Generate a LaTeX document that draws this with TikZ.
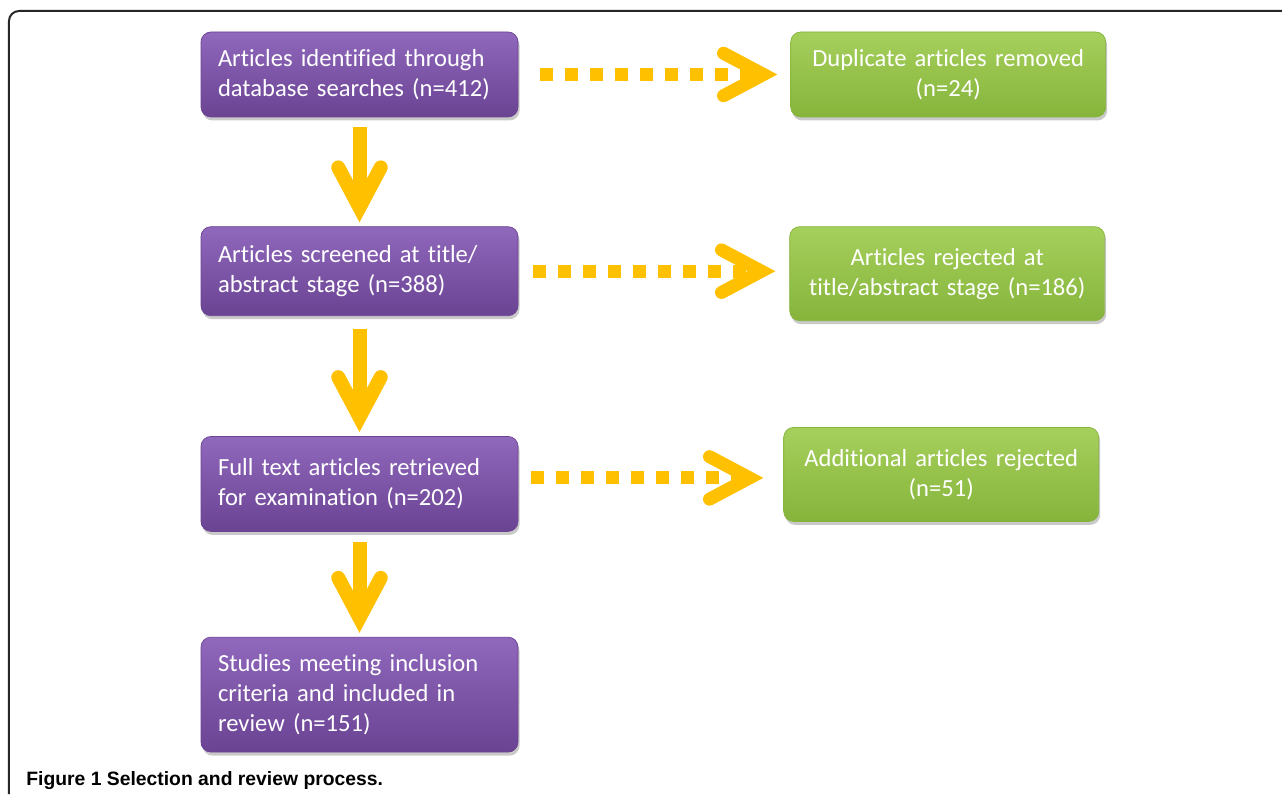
\documentclass[tikz,border=0pt]{standalone}
\usepackage{fontspec}
\setmainfont{Carlito}[Ligatures = NoCommon]
\newfontfamily\captionfont{Liberation Sans}
\usetikzlibrary{positioning, arrows.meta, shadows}

\definecolor{purpleTop}{HTML}{9068BC}
\definecolor{purpleBottom}{HTML}{6B4393}
\definecolor{greenTop}{HTML}{A5D05C}
\definecolor{greenBottom}{HTML}{86B43B}
\definecolor{arrowGold}{HTML}{FFC000}

\tikzset{
  stage/.style = {rectangle, rounded corners = 0.2cm, draw = purpleBottom,
    top color = purpleTop, bottom color = purpleBottom, text = white,
    minimum width = 6.34cm, text width = 5.66cm, inner xsep = 0.34cm,
    inner ysep = 0.1cm, align = left, font = \fontsize{14}{17}\selectfont,
    drop shadow = {shadow xshift = 0.03cm, shadow yshift = -0.07cm,
      opacity = 0.3, fill = black!70}},
  excluded/.style = {stage, draw = greenBottom, top color = greenTop,
    bottom color = greenBottom, minimum width = 6.3cm, text width = 5.62cm,
    align = center},
  flow/.style = {draw = arrowGold, line width = 0.28cm,
    -{Straight Barb[length = 0.8cm, width = 0.85cm, line cap = round,
      line join = miter]},
    shorten <= 0.2cm, shorten >= 0.08cm},
  drop/.style = {flow, dash pattern = on 0.25cm off 0.25cm,
    line width = 0.26cm}
}

\begin{document}
\begin{tikzpicture}
  \useasboundingbox (0,0) rectangle (25.64,-15.88);

  % frame and caption
  \draw[line width = 0.04cm, black!85, rounded corners = 0.2cm]
    (0.18,-15.88) |- (25.64,-0.22);
  \node[anchor = base west, inner sep = 0pt,
    font = \captionfont\bfseries\fontsize{11}{13}\selectfont]
    (caption) at (0.52,-15.7) {Figure 1 Selection and review process.};

  % main flow
  \node[stage, minimum height = 1.7cm] (identified) at (7.19,-1.49)
    {Articles identified through\\database searches (n=412)};
  \node[stage] (screened) [below = 2.18cm of identified,
    minimum height = 1.78cm]
    {Articles screened at title/\\abstract stage (n=388)};
  \node[stage] (retrieved) [below = 2.4cm of screened,
    minimum height = 1.9cm]
    {Full text articles retrieved\\for examination (n=202)};
  \node[stage] (included) [below = 2.1cm of retrieved,
    minimum height = 2.3cm]
    {Studies meeting inclusion\\criteria and included in\\review (n=151)};

  % exclusions
  \node[excluded] (duplicates) [right = 5.44cm of identified,
    minimum height = 1.7cm]
    {Duplicate articles removed\\(n=24)};
  \node[excluded] (rejectedTitle) [right = 5.42cm of screened,
    yshift = -0.05cm, minimum height = 1.88cm]
    {Articles rejected at\\title/abstract stage (n=186)};
  \node[excluded] (rejectedFull) [right = 5.3cm of retrieved,
    yshift = 0.19cm, minimum height = 1.88cm]
    {Additional articles rejected\\(n=51)};

  \draw[flow] (identified) -- (screened);
  \draw[flow, shorten <= 0.26cm] (screened) -- (retrieved);
  \draw[flow] (retrieved) -- (included);

  \draw[drop, shorten <= 0.44cm, shorten >= 0.26cm]
    (identified.east) -- (identified.east -| duplicates.west);
  \draw[drop, shorten <= 0.3cm, shorten >= 0.28cm]
    (screened.east) -- (screened.east -| rejectedTitle.west);
  \draw[drop, shorten <= 0.26cm, shorten >= 0.4cm]
    ([yshift = 0.12cm]retrieved.east)
    -- ([yshift = 0.12cm]retrieved.east -| rejectedFull.west);
\end{tikzpicture}
\end{document}
